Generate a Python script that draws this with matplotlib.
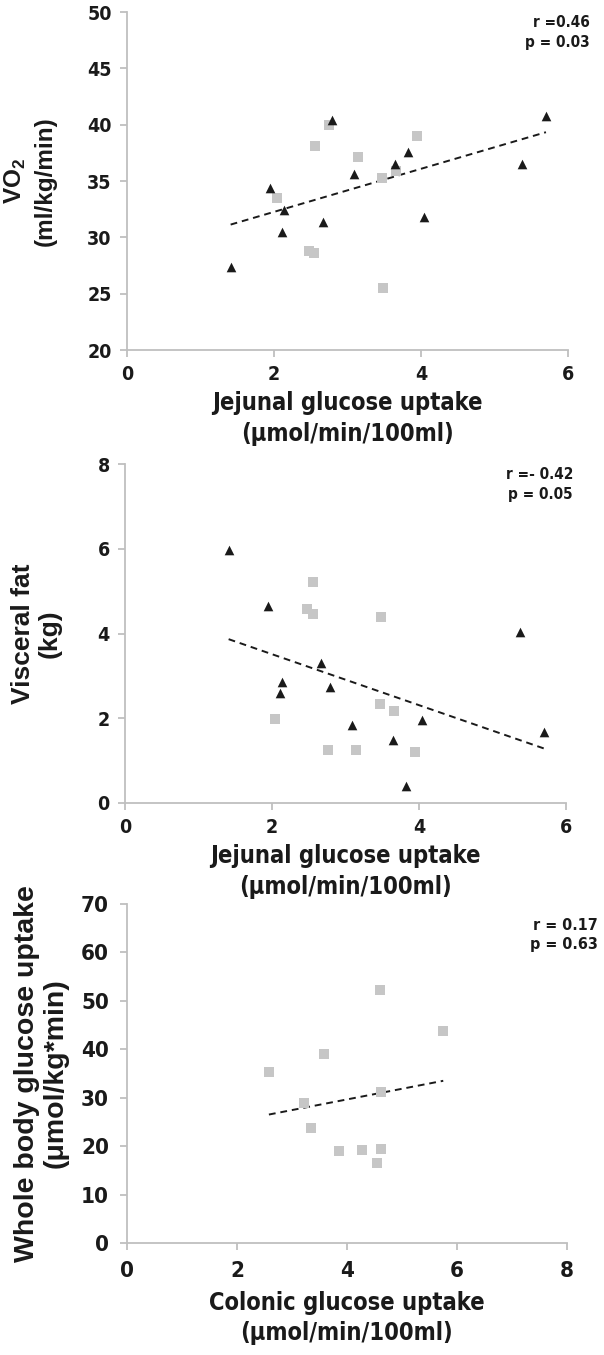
import matplotlib
matplotlib.use("Agg")
import matplotlib.pyplot as plt
import numpy as np

# data
jej_tri = [1.41, 1.94, 2.11, 2.13, 2.66, 2.79, 3.09, 3.65, 3.82, 4.04, 5.37, 5.70]
vo2_tri = [27.4, 34.4, 30.5, 32.4, 31.4, 40.4, 35.6, 36.5, 37.6, 31.8, 36.5, 40.8]
fat_tri = [5.96, 4.66, 2.59, 2.86, 3.31, 2.74, 1.85, 1.49, 0.39, 1.95, 4.04, 1.68]

jej_sq = [2.04, 2.47, 2.55, 2.56, 2.75, 3.14, 3.47, 3.48, 3.66, 3.94]
vo2_sq = [33.45, 28.8, 28.6, 38.1, 40.0, 37.1, 35.3, 25.5, 35.9, 39.0]
jej_sq2 = [2.04, 2.48, 2.56, 2.56, 2.76, 3.14, 3.47, 3.48, 3.66, 3.94]
fat_sq = [1.98, 4.58, 5.21, 4.45, 1.26, 1.24, 2.34, 4.38, 2.18, 1.20]

col_sq = [2.58, 3.21, 3.34, 3.58, 3.85, 4.28, 4.54, 4.60, 4.61, 4.61, 5.75]
wbgu_sq = [35.3, 28.9, 23.7, 39.0, 18.9, 19.3, 16.5, 52.2, 31.2, 19.4, 43.8]

stats = ["r =0.46\np = 0.03", "r =- 0.42\np = 0.05", "r = 0.17\np = 0.63"]

# condensed face for ticks / x labels, plain bold sans for y labels
NARROW = dict(family="DejaVu Sans", stretch="condensed", weight="bold")
WIDE = dict(family="Liberation Sans", weight="bold")

plt.rcParams["mathtext.fontset"] = "custom"
plt.rcParams["mathtext.rm"] = "Liberation Sans:bold"
plt.rcParams["mathtext.it"] = "Liberation Sans:bold"
plt.rcParams["mathtext.bf"] = "Liberation Sans:bold"

TRI = "#1a1a1a"
SQ = "#c6c6c6"
AX = "#bfbfbf"
TXT = "#1a1a1a"

fig = plt.figure(figsize=(6.04, 13.55), dpi=100)


def style(ax, xlim, ylim, xticks, yticks, fs=14, pad=6):
    ax.set_xlim(*xlim)
    ax.set_ylim(*ylim)
    ax.set_xticks(xticks)
    ax.set_yticks(yticks)
    for s in ["top", "right"]:
        ax.spines[s].set_visible(False)
    for s in ["left", "bottom"]:
        ax.spines[s].set_color(AX)
        ax.spines[s].set_linewidth(1.3)
    ax.tick_params(color=AX, width=1.3, length=5, pad=pad)
    for lab in ax.get_xticklabels() + ax.get_yticklabels():
        lab.set_fontfamily(NARROW["family"])
        lab.set_fontstretch(NARROW["stretch"])
        lab.set_fontweight("bold")
        lab.set_fontsize(fs)
        lab.set_color(TXT)
    ax.patch.set_alpha(0)


def trend(ax, x, y):
    x = np.asarray(x)
    y = np.asarray(y)
    k, b = np.polyfit(x, y, 1)
    xs = np.array([x.min(), x.max()])
    ax.plot(xs, k * xs + b, color=TXT, ls=(0, (3.5, 2.5)), lw=1.4, zorder=1)


def xlab(ax, first, pad=5):
    ax.set_xlabel(first + "\n(\u03bcmol/min/100ml)", fontsize=17, color=TXT,
                  linespacing=1.35, labelpad=pad, **NARROW)


def stat(ax, x, y, s, fs=11):
    ax.text(x, y, s, transform=ax.transAxes, va="top", ha="right", fontsize=fs,
            linespacing=1.35, color=TXT, **NARROW)


# panel 1
ax1 = fig.add_axes([127 / 604, 1 - 350 / 1355, 441 / 604, 338 / 1355])
ax1.scatter(jej_sq, vo2_sq, marker="s", s=42, color=SQ, lw=0, zorder=2)
ax1.scatter(jej_tri, vo2_tri, marker="^", s=48, color=TRI, lw=0, zorder=3)
trend(ax1, jej_tri + jej_sq, vo2_tri + vo2_sq)
style(ax1, (0, 6), (20, 50), [0, 2, 4, 6], range(20, 51, 5))
xlab(ax1, "Jejunal glucose uptake")
ax1.set_ylabel("$\\dot{\\mathrm{V}}\\mathrm{O}_2$\n(ml/kg/min)", fontsize=17.5, color=TXT,
               linespacing=1.3, labelpad=22, **WIDE)
stat(ax1, 1.05, 0.99, stats[0])

# panel 2
ax2 = fig.add_axes([125 / 604, 1 - 803 / 1355, 441 / 604, 339 / 1355])
ax2.scatter(jej_sq2, fat_sq, marker="s", s=42, color=SQ, lw=0, zorder=2)
ax2.scatter(jej_tri, fat_tri, marker="^", s=48, color=TRI, lw=0, zorder=3)
trend(ax2, jej_tri + jej_sq2, fat_tri + fat_sq)
style(ax2, (0, 6), (0, 8), [0, 2, 4, 6], range(0, 9, 2))
xlab(ax2, "Jejunal glucose uptake")
ax2.set_ylabel("Visceral fat\n(kg)", fontsize=19, color=TXT,
               linespacing=1.15, labelpad=26, **WIDE)
stat(ax2, 1.016, 0.99, stats[1])

# panel 3
ax3 = fig.add_axes([127 / 604, 1 - 1243 / 1355, 440 / 604, 339 / 1355])
ax3.scatter(col_sq, wbgu_sq, marker="s", s=42, color=SQ, lw=0, zorder=2)
trend(ax3, col_sq, wbgu_sq)
style(ax3, (0, 8), (0, 70), [0, 2, 4, 6, 8], range(0, 71, 10), fs=16, pad=8)
xlab(ax3, "Colonic glucose uptake", pad=7)
ax3.set_ylabel("Whole body glucose uptake\n(\u03bcmol/kg*min)", fontsize=20.5, color=TXT,
               linespacing=1.1, labelpad=9, **WIDE)
stat(ax3, 1.07, 0.96, stats[2], fs=11.5)

fig.savefig("out.png", dpi=100, facecolor="white")
